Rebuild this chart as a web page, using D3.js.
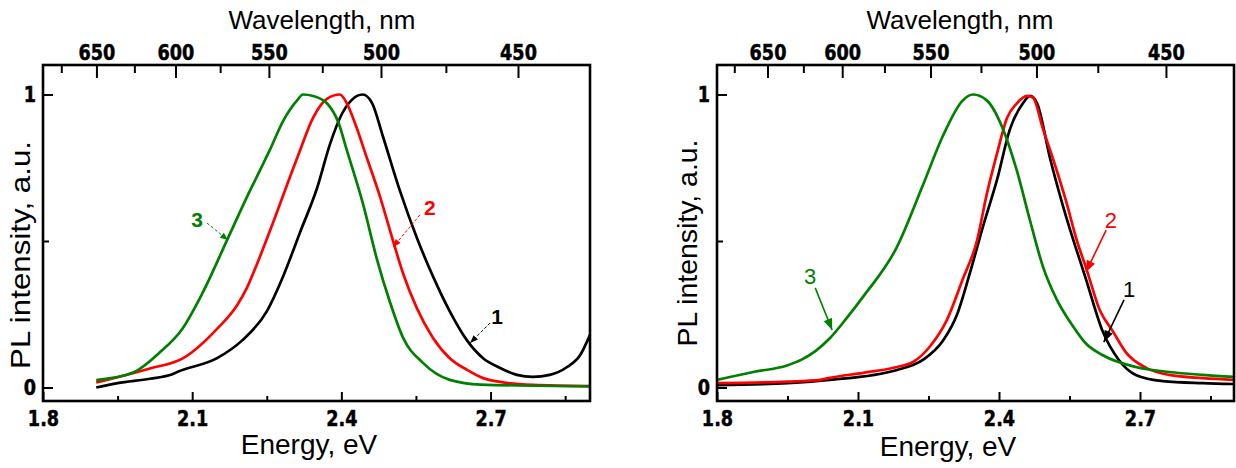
<!DOCTYPE html>
<html>
<head>
<meta charset="utf-8">
<script src="https://cdn.jsdelivr.net/npm/d3@7"></script>
<style>
  body { margin: 0; background: #fff; }
  svg { display: block; }
</style>
</head>
<body>
<svg id="chart" width="1236" height="468"></svg>
<script>
// PL spectra, two panels, energy (eV) vs normalised intensity

/* DATA */

// left panel, [energy eV, intensity]
const leftBlack = [[1.907,0.0],[1.95,0.015],[2.015,0.03],[2.06,0.045],[2.07,0.053],[2.15,0.10],[2.20,0.16],
  [2.25,0.26],[2.283,0.38],[2.317,0.53],[2.351,0.68],[2.377,0.83],[2.40,0.93],[2.42,0.98],[2.443,1.0],
  [2.462,0.97],[2.483,0.86],[2.518,0.67],[2.552,0.51],[2.584,0.38],[2.618,0.26],[2.653,0.16],[2.685,0.10],
  [2.719,0.067],[2.753,0.043],[2.785,0.036],[2.819,0.043],[2.854,0.07],[2.88,0.11],[2.9,0.18]];
const leftRed = [[1.907,0.017],[1.95,0.035],[2.015,0.065],[2.082,0.10],[2.15,0.20],[2.19,0.28],[2.21,0.34],
  [2.23,0.42],[2.262,0.56],[2.297,0.72],[2.317,0.81],[2.343,0.92],[2.371,0.985],[2.397,1.0],[2.411,0.97],
  [2.43,0.89],[2.45,0.79],[2.478,0.65],[2.504,0.50],[2.524,0.39],[2.552,0.27],[2.584,0.17],[2.618,0.10],
  [2.653,0.06],[2.685,0.032],[2.719,0.019],[2.785,0.009],[2.9,0.005]];
const leftGreen = [[1.907,0.025],[1.98,0.05],[2.035,0.12],[2.08,0.20],[2.12,0.32],[2.172,0.51],[2.21,0.65],
  [2.236,0.74],[2.256,0.81],[2.283,0.91],[2.311,0.98],[2.323,1.0],[2.343,0.995],[2.371,0.97],[2.395,0.90],
  [2.411,0.81],[2.443,0.63],[2.472,0.435],[2.498,0.29],[2.524,0.17],[2.564,0.084],[2.618,0.026],
  [2.68,0.01],[2.9,0.004]];

// right panel
const rightBlack = [[1.8,0.008],[1.95,0.015],[2.04,0.026],[2.183,0.06],[2.238,0.094],[2.281,0.16],[2.311,0.25],
  [2.338,0.39],[2.366,0.55],[2.396,0.71],[2.423,0.88],[2.451,0.97],[2.466,0.995],[2.481,0.97],[2.509,0.78],
  [2.536,0.62],[2.585,0.37],[2.621,0.19],[2.655,0.094],[2.691,0.043],[2.749,0.022],[2.834,0.015],[2.9,0.012]];
const rightRed = [[1.8,0.015],[1.95,0.02],[2.019,0.026],[2.04,0.033],[2.111,0.05],[2.183,0.07],[2.217,0.087],
  [2.253,0.14],[2.289,0.23],[2.323,0.37],[2.353,0.50],[2.374,0.66],[2.396,0.80],[2.417,0.92],[2.438,0.97],
  [2.46,0.995],[2.472,0.99],[2.494,0.88],[2.515,0.78],[2.542,0.64],[2.566,0.50],[2.587,0.40],[2.613,0.27],
  [2.643,0.19],[2.67,0.12],[2.713,0.067],[2.762,0.043],[2.834,0.032],[2.9,0.026]];
const rightGreen = [[1.8,0.026],[1.877,0.053],[1.949,0.075],[1.98,0.095],[2.01,0.125],[2.04,0.168],[2.075,0.235],
  [2.111,0.31],[2.183,0.48],[2.238,0.69],[2.281,0.86],[2.323,0.98],[2.345,1.0],[2.374,0.98],[2.409,0.88],
  [2.438,0.74],[2.466,0.57],[2.494,0.41],[2.523,0.30],[2.557,0.21],[2.585,0.15],[2.621,0.11],[2.691,0.07],
  [2.762,0.053],[2.834,0.043],[2.9,0.036]];

// ticks
const energyTicks = [1.8, 2.1, 2.4, 2.7];
const energyMinor = [1.95, 2.25, 2.55, 2.85];
const wavelengthTicks = [650, 600, 550, 500, 450];
const wavelengthMinor = [675, 625, 575, 525, 475];
const intensityTicks = [0, 1];
const intensityMinor = [0.5];

const seriesNames = ['1', '2', '3'];
const seriesColors = ['#000000', '#ff0000', '#008000'];

/* LAYOUT */

const HC = 1239.84; // eV*nm

const panels = [
  { left: 43, right: 590, top: 65, bottom: 401, zero: 387.5, one: 94.5,
    series: [leftBlack, leftRed, leftGreen],
    wlTitle: [322, 29], enTitle: [309, 454], yTitle: [30, 255, 228],
    noteStyle: { dash: '3,2', width: 1, weight: 'bold', size: 21, head: 9 },
    // label pos, arrow start, arrow tip (data coords)
    notes: [
      [[2.713, 0.241], [2.699, 0.220], [2.659, 0.152]],
      [[2.578, 0.614], [2.558, 0.589], [2.504, 0.479]],
      [[2.110, 0.572], [2.130, 0.561], [2.172, 0.503]]
    ] },
  { left: 717, right: 1234, top: 65, bottom: 401, zero: 387.5, one: 94.5,
    series: [rightBlack, rightRed, rightGreen],
    wlTitle: [960, 29], enTitle: [948, 456], yTitle: [697, 243, 207],
    noteStyle: { dash: null, width: 1.6, weight: 'normal', size: 22, head: 13 },
    notes: [
      [[2.677, 0.333], [2.666, 0.299], [2.623, 0.155]],
      [[2.638, 0.570], [2.628, 0.537], [2.585, 0.394]],
      [[1.998, 0.380], [2.009, 0.340], [2.045, 0.196]]
    ] }
];

const svg = d3.select('#chart');
const defs = svg.append('defs');

const tickFont = "'DejaVu Sans', sans-serif";
const titleFont = "'Liberation Sans', Arial, sans-serif";

// heavy, slightly condensed tick numbers
const styleAxis = sel => {
  sel.select('.domain').remove();
  sel.selectAll('line').attr('stroke', '#000').attr('stroke-width', 2);
  sel.selectAll('text')
    .attr('font-family', tickFont)
    .attr('font-weight', 'bold')
    .attr('font-size', 21)
    .attr('fill', '#000')
    .attr('stroke', '#000')
    .attr('stroke-width', 0.5)
    .each(function() {
      const w = this.getComputedTextLength();
      if (w > 0) d3.select(this).attr('textLength', w * 0.84).attr('lengthAdjust', 'spacingAndGlyphs');
    });
};

panels.forEach((p, pi) => {

  const x = d3.scaleLinear().domain([1.8, 2.9]).range([p.left, p.right]);
  const y = d3.scaleLinear().domain([0, 1]).range([p.zero, p.one]);

  const g = svg.append('g');

  defs.append('clipPath').attr('id', 'clip' + pi)
    .append('rect')
    .attr('x', p.left).attr('y', p.top)
    .attr('width', p.right - p.left).attr('height', p.bottom - p.top);

  // curves
  const line = d3.line()
    .x(d => x(d[0]))
    .y(d => y(d[1]))
    .curve(d3.curveMonotoneX);

  g.append('g').attr('clip-path', `url(#clip${pi})`)
    .selectAll('path')
    .data(p.series)
    .join('path')
    .attr('d', line)
    .attr('fill', 'none')
    .attr('stroke', (d, i) => seriesColors[i])
    .attr('stroke-width', 2.7)
    .attr('stroke-linejoin', 'round');

  // axes, ticks point inward
  const axes = g.append('g');

  axes.append('g')
    .attr('transform', `translate(0,${p.bottom})`)
    .call(d3.axisBottom(x).tickValues(energyTicks).tickSize(-9).tickPadding(10)
      .tickFormat(d3.format('.1f')))
    .call(styleAxis);
  axes.append('g')
    .attr('transform', `translate(0,${p.bottom})`)
    .call(d3.axisBottom(x).tickValues(energyMinor).tickSize(-5).tickFormat(''))
    .call(styleAxis);

  axes.append('g')
    .attr('transform', `translate(0,${p.top})`)
    .call(d3.axisTop(x).tickValues(wavelengthTicks.map(w => HC / w)).tickSize(-13).tickPadding(5)
      .tickFormat((d, i) => wavelengthTicks[i]))
    .call(styleAxis);
  axes.append('g')
    .attr('transform', `translate(0,${p.top})`)
    .call(d3.axisTop(x).tickValues(wavelengthMinor.map(w => HC / w)).tickSize(-8).tickFormat(''))
    .call(styleAxis);

  axes.append('g')
    .attr('transform', `translate(${p.left},0)`)
    .call(d3.axisLeft(y).tickValues(intensityTicks).tickSize(-10).tickPadding(7)
      .tickFormat(d3.format('d')))
    .call(styleAxis);
  axes.append('g')
    .attr('transform', `translate(${p.left},0)`)
    .call(d3.axisLeft(y).tickValues(intensityMinor).tickSize(-6).tickFormat(''))
    .call(styleAxis);

  // frame
  g.append('rect')
    .attr('x', p.left).attr('y', p.top)
    .attr('width', p.right - p.left).attr('height', p.bottom - p.top)
    .attr('fill', 'none')
    .attr('stroke', '#000')
    .attr('stroke-width', 2.6);

  // titles
  g.append('text')
    .attr('x', p.wlTitle[0]).attr('y', p.wlTitle[1])
    .attr('text-anchor', 'middle')
    .attr('font-family', titleFont).attr('font-size', 26)
    .text('Wavelength, nm');

  g.append('text')
    .attr('x', p.enTitle[0]).attr('y', p.enTitle[1])
    .attr('text-anchor', 'middle')
    .attr('font-family', titleFont).attr('font-size', 28)
    .text('Energy, eV');

  g.append('text')
    .attr('transform', `translate(${p.yTitle[0]},${p.yTitle[1]}) rotate(-90)`)
    .attr('text-anchor', 'middle')
    .attr('font-family', titleFont).attr('font-size', 28)
    .attr('textLength', p.yTitle[2])
    .attr('lengthAdjust', 'spacingAndGlyphs')
    .text('PL intensity, a.u.');

  // curve labels with arrows
  const ns = p.noteStyle;
  p.notes.forEach((n, i) => {
    const col = seriesColors[i];
    const id = `head${pi}_${i}`;
    defs.append('marker')
      .attr('id', id)
      .attr('viewBox', '0 0 10 8')
      .attr('refX', 10).attr('refY', 4)
      .attr('markerUnits', 'userSpaceOnUse')
      .attr('markerWidth', ns.head).attr('markerHeight', ns.head * 0.7)
      .attr('orient', 'auto')
      .append('path')
      .attr('d', 'M0,0L10,4L0,8Z')
      .attr('fill', col);

    g.append('line')
      .attr('x1', x(n[1][0])).attr('y1', y(n[1][1]))
      .attr('x2', x(n[2][0])).attr('y2', y(n[2][1]))
      .attr('stroke', col)
      .attr('stroke-width', ns.width)
      .attr('stroke-dasharray', ns.dash)
      .attr('marker-end', `url(#${id})`);

    g.append('text')
      .attr('x', x(n[0][0])).attr('y', y(n[0][1]))
      .attr('text-anchor', 'middle')
      .attr('dominant-baseline', 'central')
      .attr('font-family', titleFont)
      .attr('font-weight', ns.weight)
      .attr('font-size', ns.size)
      .attr('fill', col)
      .text(seriesNames[i]);
  });
});
</script>
</body>
</html>
